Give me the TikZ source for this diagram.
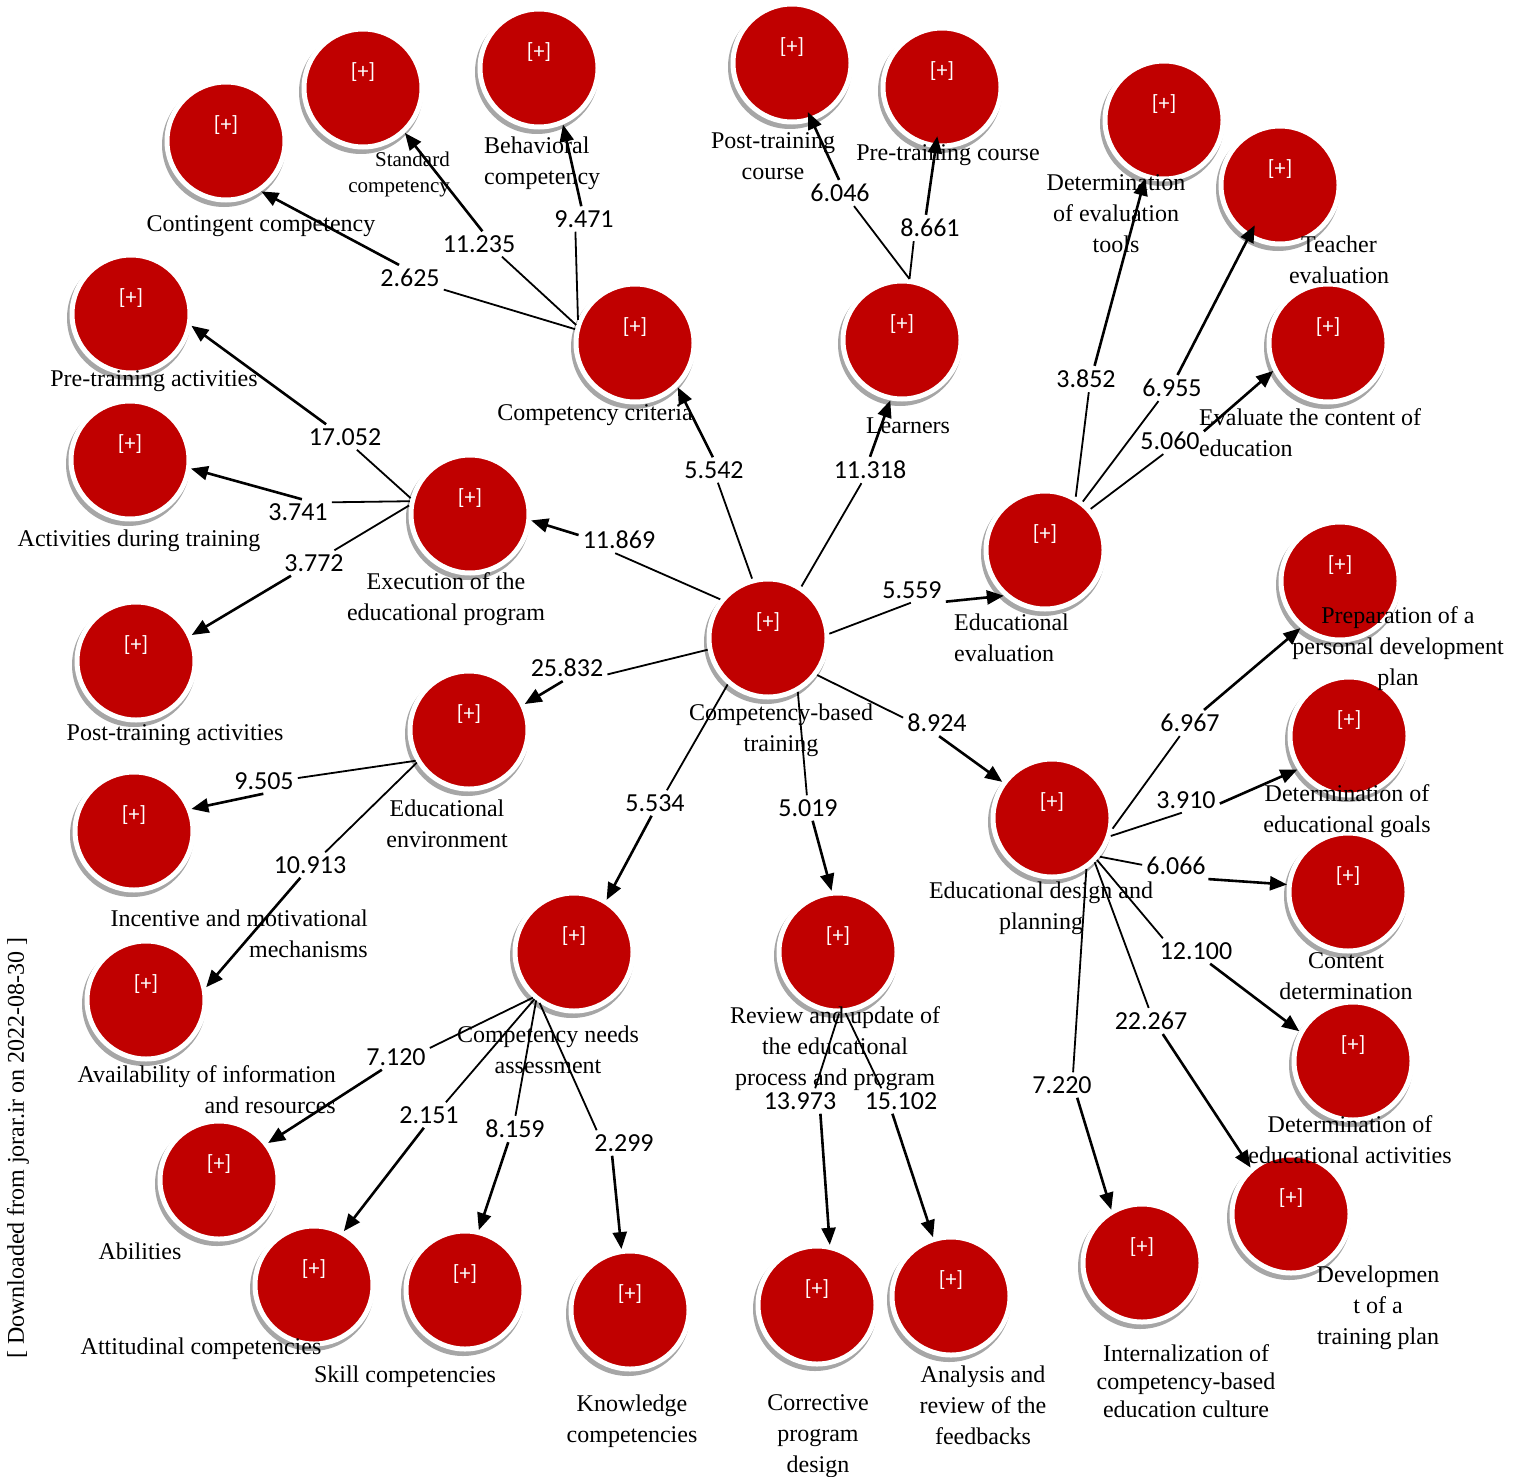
\documentclass[tikz,border=0pt]{standalone}
\usepackage{fontspec}
\setmainfont{Liberation Serif}
\newfontfamily\numfont{Carlito}
\usetikzlibrary{arrows.meta}
\definecolor{myred}{HTML}{C00000}
\definecolor{shgray}{HTML}{A6A6A6}
\newcommand\bub[3]{%
 \fill[shgray] (#2-2,#3+4) circle[radius=62pt];
 \node[bub] (#1) at (#2,#3) {};}
\newcommand\numnode[4]{\node[numsty] (#1) at (#2,#3) {#4};}
\newcommand\conn[5]{%
 \draw[ln] (#1) -- (#2);
 \draw[arr,#5] (#3) -- (#4);}
\tikzset{
 bub/.style={circle, fill=myred, draw=white, line width=5pt, minimum size=118pt, inner sep=0pt,
   label={[text=white, font=\numfont\fontsize{22}{24}\selectfont, yshift=16pt]center:{[+]}}},
 lab/.style={font=\fontsize{24}{31}\selectfont, align=center, inner sep=0pt},
 numsty/.style={font=\numfont\fontsize{26}{30}\selectfont, inner sep=4pt},
 ln/.style={line width=1.8pt},
 arr/.style={line width=2.6pt, -{Triangle[length=17pt,width=14pt]}},
}
\begin{document}
\begin{tikzpicture}[x=1pt,y=-1pt]
\fill[white] (0,0) rectangle (1523,1477);
\useasboundingbox (0,0) rectangle (1523,1477);
% bubbles
\bub{cbt}{768}{638}
\bub{crit}{635}{343}
\bub{learn}{902}{340}
\bub{eval}{1045}{550}
\bub{des}{1052}{818}
\bub{rev}{838}{952}
\bub{needs}{574}{952}
\bub{env}{469}{730}
\bub{exec}{470}{514}
\bub{cont}{226}{141}
\bub{stand}{363}{88}
\bub{behav}{539}{68}
\bub{postc}{792}{63}
\bub{prec}{942}{87}
\bub{tools}{1164}{120}
\bub{teach}{1280}{185}
\bub{evcont}{1328}{343}
\bub{prep}{1340}{581}
\bub{goals}{1349}{736}
\bub{content}{1348}{892}
\bub{acts}{1353}{1061}
\bub{devp}{1291}{1214}
\bub{intern}{1142}{1263}
\bub{corr}{817}{1305}
\bub{anal}{951}{1296}
\bub{know}{630}{1310}
\bub{skill}{465}{1290}
\bub{att}{314}{1285}
\bub{abil}{219}{1180}
\bub{avail}{146}{1000}
\bub{incent}{134}{831}
\bub{postact}{136}{661}
\bub{during}{130}{460}
\bub{preact}{131}{314}
% labels
\node[lab] (lcbt) at (781,730) {Competency-based\\training};
\node[lab] (lcrit) at (595,415) {Competency criteria};
\node[lab] (llearn) at (908,426) {Learners};
\node[lab, align=left, anchor=west] (leval) at (954,638) {Educational\\evaluation};
\node[lab] (ldes) at (1041,908) {Educational design and\\planning};
\node[lab] (lrev) at (835,1049) {Review and update of\\the educational\\process and program};
\node[lab] (lneeds) at (548,1050) {Competency needs\\assessment};
\node[lab] (lenv) at (447,824) {Educational\\environment};
\node[lab] (lexec) at (446,599) {Execution of the\\educational program};
\node[lab] (lcont) at (261,226) {Contingent competency};
\node[lab, font=\fontsize{21}{26}\selectfont, align=right, anchor=east] (lstand) at (450,174) {Standard\\competency};
\node[lab, align=left, anchor=west] (lbehav) at (484,163) {Behavioral\\competency};
\node[lab] (lpostc) at (773,156) {Post-training\\course};
\node[lab] (lprec) at (948,155) {Pre-training course};
\node[lab] (ltools) at (1116,214) {Determination\\of evaluation\\tools};
\node[lab] (lteach) at (1339,260) {Teacher\\evaluation};
\node[lab, align=left, anchor=west] (levcont) at (1199,433) {Evaluate the content of\\education};
\node[lab] (lprep) at (1398,649) {Preparation of a\\personal development\\plan};
\node[lab] (lgoals) at (1347,811) {Determination of\\educational goals};
\node[lab] (lcontent) at (1346,976) {Content\\determination};
\node[lab] (lacts) at (1350,1140) {Determination of\\educational activities};
\node[lab] (ldevp) at (1378,1308) {Developmen\\t of a\\training plan};
\node[lab, font=\fontsize{24}{28}\selectfont] (lintern) at (1186,1381) {Internalization of\\competency-based\\education culture};
\node[lab] (lcorr) at (818,1436) {Corrective\\program\\design};
\node[lab] (lanal) at (983,1405) {Analysis and\\review of the\\feedbacks};
\node[lab] (lknow) at (632,1421) {Knowledge\\competencies};
\node[lab] (lskill) at (405,1377) {Skill competencies};
\node[lab] (latt) at (201,1349) {Attitudinal competencies};
\node[lab] (labil) at (140,1251) {Abilities};
\node[lab, align=right, anchor=east] (lavail) at (336,1090) {Availability of information\\and resources};
\node[lab, align=right, anchor=east] (lincent) at (368,934) {Incentive and motivational\\mechanisms};
\node[lab] (lpostact) at (175,735) {Post-training activities};
\node[lab] (lduring) at (139,541) {Activities during training};
\node[lab] (lpreact) at (154,381) {Pre-training activities};
\node[lab, rotate=90] (dl) at (18,1148) {[ Downloaded from jorar.ir on 2022-08-30 ]};
% weights
\numnode{e1}{714}{470}{5.542}
\numnode{e2}{870}{470}{11.318}
\numnode{e3}{912}{590}{5.559}
\numnode{e4}{937}{723}{8.924}
\numnode{e5}{808}{808}{5.019}
\numnode{e6}{655}{803}{5.534}
\numnode{e7}{567}{668}{25.832}
\numnode{e8}{619}{540}{11.869}
\numnode{e9}{410}{278}{2.625}
\numnode{e10}{479}{244}{11.235}
\numnode{e11}{584}{219}{9.471}
\numnode{e12}{840}{193}{6.046}
\numnode{e13}{930}{228}{8.661}
\numnode{e14}{1086}{379}{3.852}
\numnode{e15}{1172}{388}{6.955}
\numnode{e16}{1170}{441}{5.060}
\numnode{e17}{1190}{723}{6.967}
\numnode{e18}{1186}{800}{3.910}
\numnode{e19}{1176}{866}{6.066}
\numnode{e20}{1196}{951}{12.100}
\numnode{e21}{1151}{1021}{22.267}
\numnode{e22}{1062}{1085}{7.220}
\numnode{e23}{800}{1101}{13.973}
\numnode{e24}{901}{1101}{15.102}
\numnode{e25}{396}{1057}{7.120}
\numnode{e26}{429}{1115}{2.151}
\numnode{e27}{515}{1129}{8.159}
\numnode{e28}{624}{1143}{2.299}
\numnode{e29}{264}{781}{9.505}
\numnode{e30}{310}{865}{10.913}
\numnode{e31}{345}{437}{17.052}
\numnode{e32}{298}{512}{3.741}
\numnode{e33}{314}{563}{3.772}
% connectors
\conn{cbt.105}{e1.287}{e1.95}{crit.-46}{}
\conn{cbt.57}{e2.237}{e2.90}{learn.-101}{}
\conn{cbt.4}{e3.265}{e3.341}{eval.-132}{}
\conn{cbt.-37}{e4.171}{e4.279}{des.144}{}
\conn{cbt.-61}{e5.95}{e5.290}{rev.96}{}
\conn{cbt.-131}{e6.47}{e6.255}{needs.58}{}
\conn{cbt.-169}{e7.351}{e7.252}{env.25}{}
\conn{cbt.141}{e8.254}{e8.173}{exec.-6}{}
\conn{crit.167}{e9.341}{e9.130}{cont.-55}{}
\conn{crit.163}{e10.331}{e10.75}{stand.-47}{}
\conn{crit.158}{e11.236}{e11.102}{behav.-67}{}
\conn{learn.83}{e12.317}{e12.94}{postc.-71}{shorten >=-10pt}
\conn{learn.83}{e13.219}{e13.107}{prec.-96}{shorten >=-12pt}
\conn{eval.60}{e14.282}{e14.57}{tools.-108}{}
\conn{eval.52}{e15.224}{e15.67}{teach.-121}{shorten >=-14pt}
\conn{eval.42}{e16.243}{e16.16}{evcont.-153}{}
\conn{des.-10}{e17.232}{e17.43}{prep.-130}{}
\conn{des.-17}{e18.252}{e18.354}{goals.-147}{}
\conn{des.-39}{e19.178}{e19.338}{content.173}{}
\conn{des.-43}{e20.159}{e20.318}{acts.151}{}
\conn{des.-46}{e21.100}{e21.312}{devp.131}{}
\conn{des.-56}{e22.49}{e22.320}{intern.120}{}
\conn{rev.-89}{e23.40}{e23.328}{corr.78}{}
\conn{rev.-83}{e24.147}{e24.236}{anal.107}{}
\conn{needs.-132}{e25.15}{e25.222}{abil.37}{}
\conn{needs.-130}{e26.37}{e26.248}{att.61}{}
\conn{needs.-128}{e27.88}{e27.243}{skill.77}{}
\conn{needs.-124}{e28.155}{e28.227}{know.98}{}
\conn{env.-150}{e29.5}{e29.267}{incent.21}{}
\conn{env.-148}{e30.40}{e30.233}{avail.12}{}
\conn{exec.165}{e31.313}{e31.146}{preact.-11}{}
\conn{exec.168}{e32.16}{e32.73}{during.-8}{}
\conn{exec.172}{e33.32}{e33.209}{postact.25}{}
\end{tikzpicture}
\end{document}
